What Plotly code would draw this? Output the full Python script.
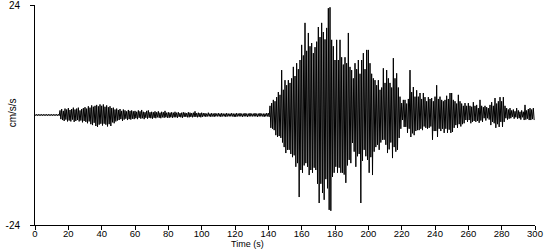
import plotly.graph_objects as go

# one reading per second: upper (hi) and lower (lo) swing of the trace, cm/s/s
sec = list(range(0, 300))

hi_000 = [0.15] * 10
lo_000 = [-0.15] * 10
hi_010 = [0.15, 0.15, 0.15, 0.15, 0.15, 1.0, 1.3, 0.9, 1.4, 1.2]
lo_010 = [-0.15, -0.15, -0.15, -0.15, -0.15, -0.9, -1.1, -1.3, -1.0, -1.4]
hi_020 = [1.5, 1.1, 1.3, 1.6, 1.2, 1.4, 1.6, 1.0, 1.3, 1.5]
lo_020 = [-1.2, -1.4, -1.0, -1.5, -1.3, -1.1, -1.4, -1.2, -1.6, -1.3]
hi_030 = [1.7, 1.4, 1.9, 1.6, 2.1, 1.8, 2.0, 2.2, 1.9, 2.3]
lo_030 = [-1.5, -1.8, -1.4, -2.0, -2.2, -1.7, -2.4, -2.6, -2.1, -1.9]
hi_040 = [2.0, 2.3, 1.8, 2.1, 1.7, 1.9, 1.5, 1.6, 1.2, 1.4]
lo_040 = [-2.3, -1.9, -2.1, -2.5, -2.0, -2.4, -1.6, -1.8, -1.4, -1.2]
hi_050 = [1.1, 1.3, 0.9, 1.2, 1.0, 0.8, 1.1, 0.9, 1.0, 0.8]
lo_050 = [-1.1, -0.9, -1.3, -1.0, -0.8, -1.1, -0.9, -1.0, -0.8, -0.9]
hi_060 = [0.9, 0.7, 1.0, 0.8, 1.1, 0.7, 0.6, 0.9, 1.0, 0.6]
lo_060 = [-0.7, -0.9, -0.6, -0.8, -0.7, -0.9, -0.6, -0.8, -0.6, -0.7]
hi_070 = [0.7, 0.6, 0.8, 0.6, 0.8, 0.5, 0.7, 0.6, 0.9, 0.5]
lo_070 = [-0.8, -0.6, -0.7, -0.5, -0.6, -0.7, -0.5, -0.6, -0.5, -0.6]
hi_080 = [0.6, 0.5, 0.6, 0.5, 0.7, 0.5, 0.6, 0.4, 0.5, 0.6]
lo_080 = [-0.6, -0.5, -0.6, -0.5, -0.5, -0.6, -0.4, -0.5, -0.6, -0.4]
hi_090 = [0.5, 0.4, 0.6, 0.5, 0.4, 0.5, 0.8, 0.4, 0.5, 0.4]
lo_090 = [-0.4, -0.5, -0.5, -0.4, -0.5, -0.4, -0.4, -0.5, -0.4, -0.5]
hi_100 = [0.5, 0.4, 0.4, 0.3, 0.5, 0.3, 0.4, 0.3, 0.4, 0.3]
lo_100 = [-0.4, -0.3, -0.4, -0.3, -0.3, -0.4, -0.3, -0.4, -0.3, -0.3]
hi_110 = [0.4, 0.3, 0.4, 0.3, 0.3, 0.4, 0.3, 0.3, 0.4, 0.3]
lo_110 = [-0.3, -0.4, -0.3, -0.3, -0.4, -0.3, -0.3, -0.3, -0.3, -0.4]
hi_120 = [0.3, 0.4, 0.3, 0.4, 0.3, 0.3, 0.4, 0.3, 0.3, 0.4]
lo_120 = [-0.4, -0.3, -0.3, -0.3, -0.4, -0.3, -0.3, -0.4, -0.3, -0.3]
hi_130 = [0.3, 0.3, 0.4, 0.3, 0.3, 0.4, 0.3, 0.3, 0.3, 0.4]
lo_130 = [-0.3, -0.3, -0.3, -0.4, -0.3, -0.3, -0.3, -0.4, -0.3, -0.3]
hi_140 = [0.4, 2.0, 2.6, 3.3, 3.0, 3.9, 5.0, 4.4, 9.8, 5.5]
lo_140 = [-0.4, -2.8, -3.0, -3.3, -4.4, -4.8, -4.6, -5.0, -6.0, -7.0]
hi_150 = [7.6, 6.5, 7.6, 7.0, 8.0, 10.5, 8.5, 11.3, 10.0, 12.0]
lo_150 = [-8.3, -7.6, -7.6, -8.5, -9.2, -8.8, -11.3, -10.5, -17.9, -12.0]
hi_160 = [15.3, 13.0, 20.1, 14.0, 17.9, 15.0, 15.7, 13.5, 14.8, 16.0]
lo_160 = [-12.6, -11.0, -10.5, -11.3, -13.1, -12.0, -12.6, -11.5, -12.0, -15.0]
hi_170 = [19.2, 17.0, 20.1, 18.1, 16.5, 19.0, 23.3, 23.5, 16.4, 15.0]
lo_170 = [-19.2, -15.0, -17.0, -18.5, -14.0, -16.0, -20.7, -20.9, -13.5, -12.6]
hi_180 = [12.0, 16.4, 12.0, 16.4, 12.6, 11.0, 12.6, 11.3, 17.9, 10.5]
lo_180 = [-11.3, -12.6, -11.5, -12.6, -12.6, -13.0, -14.8, -11.0, -9.8, -10.5]
hi_190 = [9.8, 8.0, 11.3, 10.0, 12.0, 9.0, 12.0, 13.5, 10.0, 14.2]
lo_190 = [-6.1, -8.0, -11.3, -9.0, -8.5, -19.2, -10.0, -7.6, -9.0, -9.8]
hi_200 = [14.2, 11.3, 9.0, 8.0, 7.6, 6.5, 7.6, 5.5, 6.0, 10.2]
lo_200 = [-12.6, -9.2, -13.1, -8.0, -7.0, -6.5, -7.6, -6.0, -5.4, -5.4]
hi_210 = [7.0, 9.8, 8.0, 7.0, 6.0, 12.4, 8.0, 9.1, 6.0, 4.0]
lo_210 = [-6.5, -8.3, -7.5, -6.0, -9.4, -7.0, -8.0, -7.6, -5.0, -3.0]
hi_220 = [2.6, 3.3, 3.3, 2.5, 3.5, 9.8, 5.0, 6.1, 4.0, 5.4]
lo_220 = [-1.1, -2.6, -2.6, -3.9, -3.0, -4.8, -4.0, -4.4, -3.5, -3.3]
hi_230 = [4.0, 4.8, 3.5, 4.8, 3.9, 3.0, 3.9, 3.5, 3.7, 3.0]
lo_230 = [-3.3, -3.0, -3.3, -2.5, -2.8, -3.0, -2.8, -2.5, -5.4, -3.5]
hi_240 = [4.0, 6.5, 3.5, 4.0, 3.3, 3.0, 3.3, 4.2, 3.5, 4.8]
lo_240 = [-3.5, -4.8, -3.0, -3.5, -3.0, -3.9, -3.0, -3.9, -3.2, -3.9]
hi_250 = [4.8, 3.3, 3.0, 2.5, 4.4, 3.0, 2.5, 2.0, 2.6, 2.0]
lo_250 = [-3.7, -2.8, -2.2, -2.8, -2.0, -2.5, -2.0, -1.8, -1.1, -1.5]
hi_260 = [2.6, 2.0, 1.8, 2.8, 2.0, 2.2, 1.5, 3.3, 2.0, 1.7]
lo_260 = [-1.1, -1.8, -1.5, -1.3, -1.5, -1.3, -1.7, -1.2, -1.5, -0.7]
hi_270 = [2.0, 1.7, 1.5, 2.2, 2.8, 2.0, 3.7, 2.5, 3.0, 3.9]
lo_270 = [-1.2, -0.7, -1.0, -2.2, -1.5, -1.8, -2.8, -2.0, -2.6, -1.5]
hi_280 = [3.0, 3.9, 2.0, 1.5, 1.2, 1.5, 1.0, 1.2, 0.8, 1.5]
lo_280 = [-2.6, -1.5, -0.7, -1.0, -0.8, -0.7, -0.4, -0.8, -0.5, -0.8]
hi_290 = [1.0, 0.7, 1.0, 0.7, 2.2, 1.0, 1.3, 1.5, 1.2, 1.5]
lo_290 = [-0.7, -1.0, -0.5, -1.1, -1.0, -0.8, -1.1, -1.1, -0.9, -1.1]

hi = (hi_000 + hi_010 + hi_020 + hi_030 + hi_040 + hi_050 + hi_060 + hi_070 + hi_080
      + hi_090 + hi_100 + hi_110 + hi_120 + hi_130 + hi_140 + hi_150 + hi_160 + hi_170
      + hi_180 + hi_190 + hi_200 + hi_210 + hi_220 + hi_230 + hi_240 + hi_250 + hi_260
      + hi_270 + hi_280 + hi_290)
lo = (lo_000 + lo_010 + lo_020 + lo_030 + lo_040 + lo_050 + lo_060 + lo_070 + lo_080
      + lo_090 + lo_100 + lo_110 + lo_120 + lo_130 + lo_140 + lo_150 + lo_160 + lo_170
      + lo_180 + lo_190 + lo_200 + lo_210 + lo_220 + lo_230 + lo_240 + lo_250 + lo_260
      + lo_270 + lo_280 + lo_290)

x_ticks = list(range(0, 301, 20))
y_ticks = [-24, 24]
y_tick_text = ["-24", "24"]

# trace path: each second swings up to its hi reading, then down to its lo reading
xs, ys = [], []
for t, h, l in zip(sec, hi, lo):
    xs += [t, t + 0.5]
    ys += [h, l]

FONT = "Arial, Liberation Sans, sans-serif"

fig = go.Figure(go.Scatter(
    x=xs, y=ys, mode="lines",
    line=dict(color="black", width=1), hoverinfo="skip", showlegend=False))

fig.update_layout(
    template="none",
    width=550, height=250,
    margin=dict(l=35, r=15, t=5, b=25, pad=0),
    paper_bgcolor="white", plot_bgcolor="white",
    font=dict(family=FONT, size=10, color="black"),
    xaxis=dict(range=[0, 300], tickvals=x_ticks, showgrid=False, zeroline=False,
               automargin=False, showline=True, linecolor="black", linewidth=1,
               ticks="outside", ticklen=4, tickwidth=1, tickcolor="black",
               ticklabelstandoff=-4, ticklabeloverflow="allow",
               tickfont=dict(size=9.5)),
    yaxis=dict(range=[-24, 24], tickvals=y_ticks, ticktext=y_tick_text,
               showgrid=False, zeroline=False,
               automargin=False, showline=True, linecolor="black", linewidth=1,
               ticks="outside", ticklen=4, tickwidth=1, tickcolor="black",
               ticklabelstandoff=8, ticklabeloverflow="allow",
               tickfont=dict(size=10)),
    annotations=[
        dict(text="Time (s)", xref="paper", yref="paper", x=0.424, y=-0.1136,
             xanchor="center", yanchor="bottom", showarrow=False, borderpad=0,
             font=dict(size=9)),
        dict(text="cm/s/s", xref="paper", yref="paper", x=-0.045, y=0.51,
             xanchor="center", yanchor="middle", textangle=-90, showarrow=False,
             font=dict(size=10)),
    ],
)

fig.write_html("out.html")
